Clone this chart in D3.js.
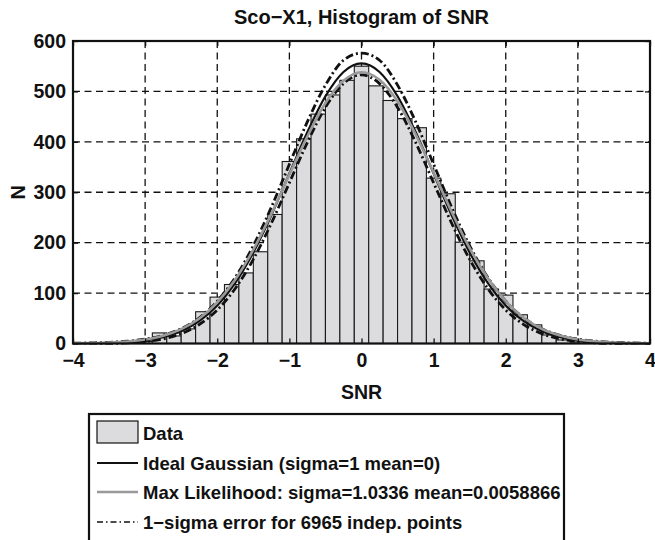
<!DOCTYPE html>
<html>
<head>
<meta charset="utf-8">
<script src="https://cdn.jsdelivr.net/npm/d3@7"></script>
<style>
  body { margin: 0; background: #fff; }
  svg { display: block; }
  text { font-family: 'Liberation Sans', Arial, Helvetica, sans-serif; font-weight: bold; fill: #111; }
  .tick text { font-size: 19.5px; }
  .grid line { stroke: #111; stroke-width: 1.3; stroke-dasharray: 7,4.5; }
</style>
</head>
<body>
<svg id="chart"></svg>
<script>
// histogram bins (centres) and counts
var binCenters = [-3.8,-3.6,-3.4,-3.2,-3.0,-2.8,-2.6,-2.4,-2.2,-2.0,-1.8,-1.6,-1.4,-1.2,-1.0,-0.8,-0.6,-0.4,-0.2,
                  0.0,0.2,0.4,0.6,0.8,1.0,1.2,1.4,1.6,1.8,2.0,2.2,2.4,2.6,2.8,3.0,3.2,3.4,3.6,3.8];
var binCounts  = [1,1,2,2,4,21,15,29,63,92,117,140,182,256,361,406,455,493,522,
                  550,511,482,446,428,328,297,201,164,108,96,57,37,17,7,3,2,1,1,0];
var binWidth = 0.2;

// curves, sampled every 0.25 in SNR
var curveX = [-4,-3.75,-3.5,-3.25,-3,-2.75,-2.5,-2.25,-2,-1.75,-1.5,-1.25,-1,-0.75,-0.5,-0.25,0,
              0.25,0.5,0.75,1,1.25,1.5,1.75,2,2.25,2.5,2.75,3,3.25,3.5,3.75,4];
var idealGauss = [0.2,0.5,1.2,2.8,6.2,12.7,24.4,44.2,75.2,120.2,180.4,254.4,337.1,419.5,490.4,538.6,555.7,
                  538.6,490.4,419.5,337.1,254.4,180.4,120.2,75.2,44.2,24.4,12.7,6.2,2.8,1.2,0.5,0.2];
var maxLikelihood = [0.3,0.7,1.7,3.8,7.8,15.4,28.5,49.7,81.8,127,186,257,335,411,477,521,538,
                     523,480,415,339,261,189,130,84,51,29,16,8.1,3.9,1.8,0.8,0.3];
var errUpper = [0.6,1.2,2.3,4.5,8.7,16.3,29.3,50.8,83.9,131.2,193.8,270.3,355.5,440,512.5,561.8,576,
                561.8,512.5,440,355.5,270.3,193.8,131.2,83.9,50.8,29.3,16.3,8.7,4.5,2.3,1.2,0.6];
var errLower = [0,0,0.1,1.1,3.7,9.1,19.5,37.6,66.5,109.2,167,238.5,318.7,399,468.3,515.4,533,
                515.4,468.3,399,318.7,238.5,167,109.2,66.5,37.6,19.5,9.1,3.7,1.1,0.1,0,0];

var xTicks = [-4,-3,-2,-1,0,1,2,3,4];
var yTicks = [0,100,200,300,400,500,600];

var legendLabels = ["Data",
                    "Ideal Gaussian (sigma=1 mean=0)",
                    "Max Likelihood: sigma=1.0336 mean=0.0058866",
                    "1\u2212sigma error for 6965 indep. points"];

/* ---- SVG setup ---- */
var svgWidth = 655, svgHeight = 540;
var margin = { top: 41, left: 73 };
var chartWidth = 577, chartHeight = 302.5;

var svg = d3.select("#chart").attr("width", svgWidth).attr("height", svgHeight);
var g = svg.append("g").attr("transform", "translate(" + margin.left + "," + margin.top + ")");

var x = d3.scaleLinear().domain([-4, 4]).range([0, chartWidth]);
var y = d3.scaleLinear().domain([0, 600]).range([chartHeight, 0]);

// dashed grid goes behind the bars
var grid = g.append("g").attr("class", "grid");
grid.selectAll(".vx").data(xTicks.slice(1, -1)).enter().append("line")
  .attr("x1", d => x(d)).attr("x2", d => x(d)).attr("y1", 0).attr("y2", chartHeight);
grid.selectAll(".hy").data(yTicks.slice(1)).enter().append("line")
  .attr("x1", 0).attr("x2", chartWidth).attr("y1", d => y(d)).attr("y2", d => y(d));

/* ---- bars ---- */
g.append("g").selectAll("rect")
  .data(binCenters.map((c, i) => ({c: c, n: binCounts[i]})))
  .enter().append("rect")
  .attr("x", d => x(d.c - binWidth / 2))
  .attr("width", d => x(d.c + binWidth / 2) - x(d.c - binWidth / 2))
  .attr("y", d => y(d.n))
  .attr("height", d => chartHeight - y(d.n))
  .attr("fill", "#dcdcde")
  .attr("stroke", "#1a1a1a")
  .attr("stroke-width", 1.1);

/* ---- curves ---- */
function curveLine(vals) {
  return d3.line()
    .x((d, i) => x(curveX[i]))
    .y(d => y(d))
    .curve(d3.curveMonotoneX)(vals);
}
var dashDot = "8,3,2,3";
var curves = g.append("g").attr("fill", "none");
curves.append("path").attr("d", curveLine(errUpper)).attr("stroke", "#111").attr("stroke-width", 2.8).attr("stroke-dasharray", dashDot);
curves.append("path").attr("d", curveLine(errLower)).attr("stroke", "#111").attr("stroke-width", 2.8).attr("stroke-dasharray", dashDot);
curves.append("path").attr("d", curveLine(idealGauss)).attr("stroke", "#111").attr("stroke-width", 2.2);
curves.append("path").attr("d", curveLine(maxLikelihood)).attr("stroke", "#999").attr("stroke-width", 2.6);

/* ---- axes (matlab style: inward ticks on all four sides) ---- */
var tickLen = 5;
g.append("g").attr("transform", "translate(0," + chartHeight + ")")
  .call(d3.axisBottom(x).tickValues(xTicks).tickSizeInner(-tickLen).tickSizeOuter(0).tickPadding(10))
  .call(a => a.select(".domain").remove());
g.append("g")
  .call(d3.axisTop(x).tickValues(xTicks).tickSizeInner(-tickLen).tickSizeOuter(0))
  .call(a => a.select(".domain").remove())
  .call(a => a.selectAll("text").remove());
g.append("g")
  .call(d3.axisLeft(y).tickValues(yTicks).tickSizeInner(-tickLen).tickSizeOuter(0).tickPadding(7))
  .call(a => a.select(".domain").remove());
g.append("g").attr("transform", "translate(" + chartWidth + ",0)")
  .call(d3.axisRight(y).tickValues(yTicks).tickSizeInner(-tickLen).tickSizeOuter(0))
  .call(a => a.select(".domain").remove())
  .call(a => a.selectAll("text").remove());
g.selectAll(".tick line").attr("stroke", "#111").attr("stroke-width", 1.3);

g.append("rect").attr("width", chartWidth).attr("height", chartHeight)
  .attr("fill", "none").attr("stroke", "#111").attr("stroke-width", 2.2);

/* ---- labels ---- */
svg.append("text").attr("x", margin.left + chartWidth / 2).attr("y", 24)
  .attr("text-anchor", "middle").style("font-size", "20px").text("Sco\u2212X1, Histogram of SNR");
svg.append("text").attr("x", margin.left + chartWidth / 2).attr("y", 399)
  .attr("text-anchor", "middle").style("font-size", "19.5px").text("SNR");
svg.append("text").attr("transform", "translate(25," + (margin.top + chartHeight / 2) + ") rotate(-90)")
  .attr("text-anchor", "middle").style("font-size", "20px").text("N");

/* ---- legend ---- */
var legend = svg.append("g").attr("transform", "translate(89,414)");
legend.append("rect").attr("width", 475).attr("height", 140)
  .attr("fill", "#fff").attr("stroke", "#111").attr("stroke-width", 2.2);
var rowY = [19, 49, 78, 108];
legend.append("rect").attr("x", 8).attr("y", 7).attr("width", 41).attr("height", 22)
  .attr("fill", "#dcdcde").attr("stroke", "#111").attr("stroke-width", 1.2);
legend.append("line").attr("x1", 8).attr("x2", 49).attr("y1", rowY[1]).attr("y2", rowY[1])
  .attr("stroke", "#111").attr("stroke-width", 2);
legend.append("line").attr("x1", 8).attr("x2", 49).attr("y1", rowY[2]).attr("y2", rowY[2])
  .attr("stroke", "#999").attr("stroke-width", 2.5);
legend.append("line").attr("x1", 8).attr("x2", 49).attr("y1", rowY[3]).attr("y2", rowY[3])
  .attr("stroke", "#111").attr("stroke-width", 1.5).attr("stroke-dasharray", "6,3,1.5,3");
legend.selectAll("text.lab").data(legendLabels).enter().append("text")
  .attr("class", "lab")
  .attr("x", 54).attr("y", (d, i) => rowY[i] + 6.5)
  .style("font-size", "18.5px")
  .text(d => d);
</script>
</body>
</html>
